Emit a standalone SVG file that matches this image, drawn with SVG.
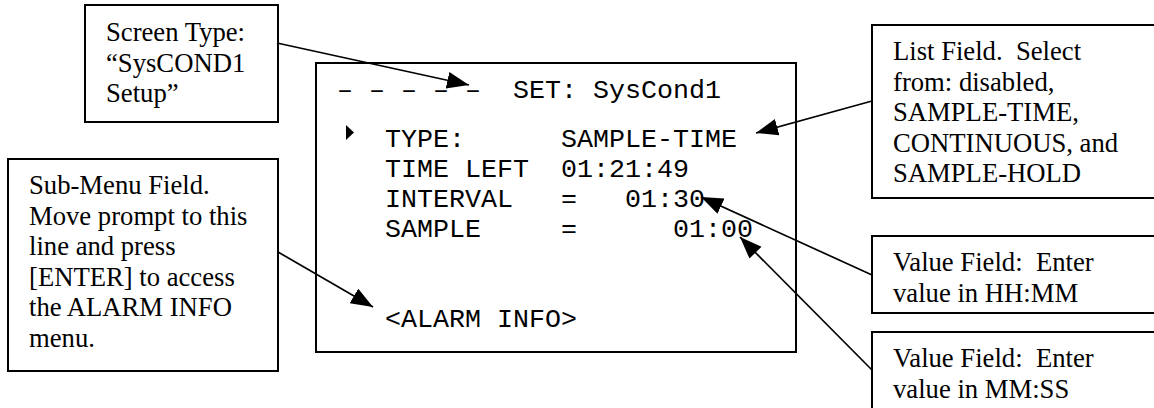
<svg xmlns="http://www.w3.org/2000/svg" width="1154" height="408" viewBox="0 0 1154 408" xml:space="preserve">
<style>
.box{fill:#fff;stroke:#000;stroke-width:2}
.lbl{font-family:"Liberation Serif","Times New Roman",serif;font-size:26.67px;fill:#000;white-space:pre}
.mono{font-family:"Liberation Mono","Courier New",monospace;font-size:26.67px;fill:#000;white-space:pre}
.conn{stroke:#000;stroke-width:1.7;fill:none;marker-end:url(#ah)}
</style>
<defs>
<marker id="ah" markerUnits="userSpaceOnUse" markerWidth="26" markerHeight="20" refX="22" refY="8.5" orient="auto">
<path d="M0,0 L22,8.5 L0,17 z" fill="#000"/>
</marker>
</defs>
<rect width="1154" height="408" fill="#fff"/>
<g id="screen">
<rect class="box" x="316" y="63" width="480" height="289"/>
<text class="mono" x="337" y="98">– – – – –  SET: SysCond1</text>
<polygon points="346,125 354,132.5 346,140" fill="#000"/>
<text class="mono" x="385" y="147">TYPE:      SAMPLE-TIME</text>
<text class="mono" x="385" y="177">TIME LEFT  01:21:49</text>
<text class="mono" x="385" y="207">INTERVAL   =   01:30</text>
<text class="mono" x="385" y="237">SAMPLE     =      01:00</text>
<text class="mono" x="385" y="327">&lt;ALARM INFO&gt;</text>
</g>
<g id="screen-type">
<rect class="box" x="85" y="5" width="193" height="117"/>
<text class="lbl"><tspan x="106" y="41">Screen Type:</tspan><tspan x="106" y="71.5">“SysCOND1</tspan><tspan x="106" y="102">Setup”</tspan></text>
</g>
<g id="sub-menu">
<rect class="box" x="8" y="159" width="270" height="212"/>
<text class="lbl"><tspan x="29" y="194">Sub-Menu Field.</tspan><tspan x="29" y="224.5">Move prompt to this</tspan><tspan x="29" y="255">line and press</tspan><tspan x="29" y="285.5">[ENTER] to access</tspan><tspan x="29" y="316">the ALARM INFO</tspan><tspan x="29" y="346.5">menu.</tspan></text>
</g>
<g id="list-field">
<rect class="box" x="872" y="25" width="290" height="173"/>
<text class="lbl"><tspan x="893" y="60">List Field.  Select</tspan><tspan x="893" y="90.5">from: disabled,</tspan><tspan x="893" y="121">SAMPLE-TIME,</tspan><tspan x="893" y="151.5">CONTINUOUS, and</tspan><tspan x="893" y="182">SAMPLE-HOLD</tspan></text>
</g>
<g id="value-hhmm">
<rect class="box" x="872" y="236" width="290" height="77"/>
<text class="lbl"><tspan x="893" y="271">Value Field:  Enter</tspan><tspan x="893" y="301.5">value in HH:MM</tspan></text>
</g>
<g id="value-mmss">
<rect class="box" x="872" y="332" width="290" height="90"/>
<text class="lbl"><tspan x="893" y="367">Value Field:  Enter</tspan><tspan x="893" y="397.5">value in MM:SS</tspan></text>
</g>
<g id="connectors">
<line class="conn" x1="277" y1="43" x2="469" y2="85"/>
<line class="conn" x1="872" y1="101" x2="756" y2="133"/>
<line class="conn" x1="872" y1="275" x2="701" y2="197"/>
<line class="conn" x1="872" y1="370" x2="740" y2="237"/>
<line class="conn" x1="278" y1="252" x2="373" y2="307"/>
</g>
</svg>
